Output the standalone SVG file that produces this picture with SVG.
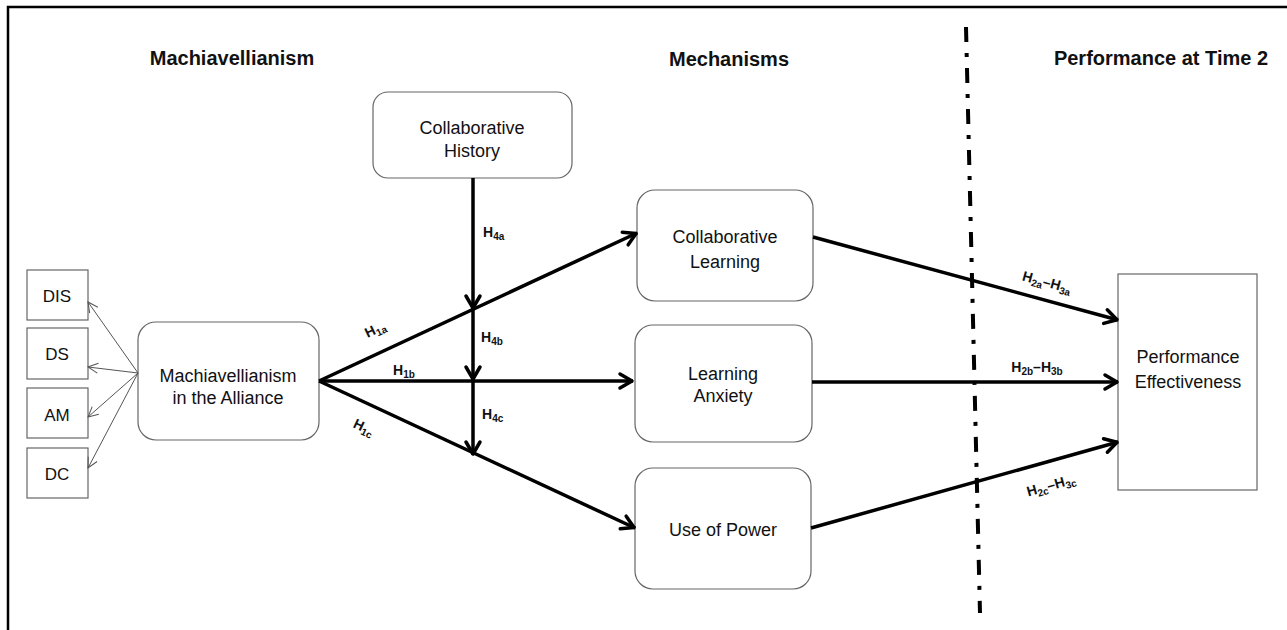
<svg xmlns="http://www.w3.org/2000/svg" width="1287" height="630" viewBox="0 0 1287 630">
<style>
.title{font-family:"Liberation Sans",Arial,sans-serif;font-weight:bold;font-size:20px;fill:#111;text-anchor:middle}
.nt{font-family:"Liberation Sans",Arial,sans-serif;font-size:18px;fill:#111;text-anchor:middle}
.st{font-family:"Liberation Sans",Arial,sans-serif;font-size:17px;fill:#111;text-anchor:middle}
.box{fill:#fff;stroke:#666;stroke-width:1.2}
.lbl{font-family:"Liberation Sans",Arial,sans-serif;font-weight:bold;font-size:14px;fill:#111}
.s{font-size:10px}
.thick{stroke:#000;stroke-width:3.5;fill:none;marker-end:url(#ah)}
.thin{stroke:#555;stroke-width:1;fill:none;marker-end:url(#ahs)}
</style>
<defs>
<marker id="ah" viewBox="-16 -10 18 20" refX="0" refY="0" markerWidth="18" markerHeight="20" markerUnits="userSpaceOnUse" orient="auto">
<path d="M-13,-7 L-1,0 L-13,7" fill="none" stroke="#000" stroke-width="3.5" stroke-linecap="round" stroke-linejoin="round"/>
</marker>
<marker id="ahs" viewBox="-12 -7 13 14" refX="0" refY="0" markerWidth="13" markerHeight="14" markerUnits="userSpaceOnUse" orient="auto">
<path d="M-10,-5 L0,0 L-10,5" fill="none" stroke="#555" stroke-width="1"/>
</marker>
</defs>
<rect width="1287" height="630" fill="#fff"/>
<path d="M8,630 L8,7 L1287,7" fill="none" stroke="#000" stroke-width="2.5"/>
<g id="headers">
<text class="title" x="232" y="65">Machiavellianism</text>
<text class="title" x="729" y="66">Mechanisms</text>
<text class="title" x="1161" y="65">Performance at Time 2</text>
</g>
<line id="divider" x1="966" y1="27" x2="980" y2="613" stroke="#000" stroke-width="4" stroke-dasharray="15 11 4 11"/>
<g id="DIS"><rect class="box" x="27" y="270" width="61" height="50"/><text class="st" x="57" y="302">DIS</text></g>
<g id="DS"><rect class="box" x="27" y="328" width="61" height="51"/><text class="st" x="57" y="360">DS</text></g>
<g id="AM"><rect class="box" x="27" y="388" width="61" height="50"/><text class="st" x="57" y="421">AM</text></g>
<g id="DC"><rect class="box" x="27" y="448" width="61" height="50"/><text class="st" x="57" y="480">DC</text></g>
<g id="mach"><rect class="box" x="138" y="322" width="181" height="118" rx="18"/><text class="nt" x="228" y="382">Machiavellianism</text><text class="nt" x="228" y="404">in the Alliance</text></g>
<g id="history"><rect class="box" x="373" y="92" width="199" height="86" rx="15"/><text class="nt" x="472" y="134">Collaborative</text><text class="nt" x="472" y="157">History</text></g>
<g id="learning"><rect class="box" x="637" y="190" width="176" height="111" rx="18"/><text class="nt" x="725" y="243">Collaborative</text><text class="nt" x="725" y="268">Learning</text></g>
<g id="anxiety"><rect class="box" x="635" y="325" width="177" height="117" rx="18"/><text class="nt" x="723" y="380">Learning</text><text class="nt" x="723" y="402">Anxiety</text></g>
<g id="power"><rect class="box" x="635" y="468" width="176" height="121" rx="18"/><text class="nt" x="723" y="536">Use of Power</text></g>
<g id="perf"><rect class="box" x="1118" y="274" width="139" height="216"/><text class="nt" x="1188" y="363">Performance</text><text class="nt" x="1188" y="388">Effectiveness</text></g>
<g id="connectors">
<line class="thin" x1="138" y1="373" x2="88" y2="302"/>
<line class="thin" x1="138" y1="373" x2="88" y2="367"/>
<line class="thin" x1="138" y1="373" x2="88" y2="417"/>
<line class="thin" x1="138" y1="373" x2="88" y2="468"/>
<line class="thick" x1="319" y1="381" x2="637" y2="233"/>
<line class="thick" x1="319" y1="381" x2="633" y2="381"/>
<line class="thick" x1="319" y1="381" x2="635" y2="528"/>
<line class="thick" x1="473" y1="178" x2="473" y2="309"/>
<line class="thick" x1="473" y1="309" x2="473" y2="380"/>
<line class="thick" x1="473" y1="380" x2="473" y2="455"/>
<line class="thick" x1="813" y1="237" x2="1118" y2="320"/>
<line class="thick" x1="812" y1="382" x2="1118" y2="382"/>
<line class="thick" x1="811" y1="528" x2="1118" y2="442"/>
</g>
<g id="labels">
<text class="lbl" x="483" y="237">H<tspan class="s" dy="3">4a</tspan></text>
<text class="lbl" x="481" y="342">H<tspan class="s" dy="3">4b</tspan></text>
<text class="lbl" x="482" y="419">H<tspan class="s" dy="3">4c</tspan></text>
<text class="lbl" x="393" y="375">H<tspan class="s" dy="3">1b</tspan></text>
<text class="lbl" text-anchor="middle" transform="translate(375 329) rotate(-25)" x="0" y="5">H<tspan class="s" dy="3">1a</tspan></text>
<text class="lbl" text-anchor="middle" transform="translate(364 427) rotate(25.6)" x="0" y="5">H<tspan class="s" dy="3">1c</tspan></text>
<text class="lbl" text-anchor="middle" transform="translate(1047 282) rotate(15.2)" x="0" y="5">H<tspan class="s" dy="3">2a</tspan><tspan dy="-3">–H</tspan><tspan class="s" dy="3">3a</tspan></text>
<text class="lbl" text-anchor="middle" x="1037" y="372">H<tspan class="s" dy="3">2b</tspan><tspan dy="-3">–H</tspan><tspan class="s" dy="3">3b</tspan></text>
<text class="lbl" text-anchor="middle" transform="translate(1051 485) rotate(-15.6)" x="0" y="5">H<tspan class="s" dy="3">2c</tspan><tspan dy="-3">–H</tspan><tspan class="s" dy="3">3c</tspan></text>
</g>
</svg>
